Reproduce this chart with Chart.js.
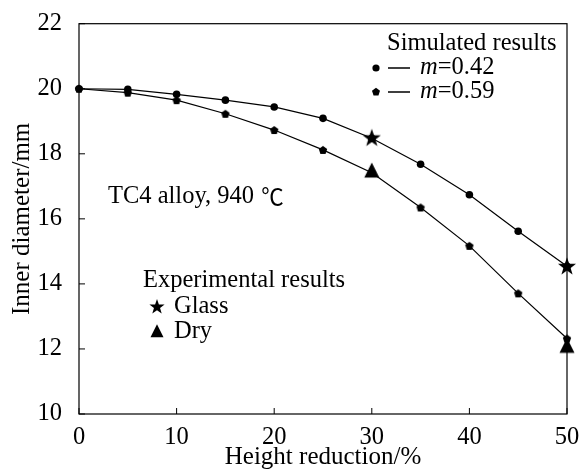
<!DOCTYPE html>
<html><head><meta charset="utf-8">
<script src="https://cdn.jsdelivr.net/npm/chart.js@4/dist/chart.umd.min.js"></script>
<style>html,body{margin:0;padding:0;background:#fff}canvas{display:block}</style>
</head><body>
<canvas id="c" width="581" height="470"></canvas>
<script>
const reduction = [0, 5, 10, 15, 20, 25, 30, 35, 40, 45, 50];
const simM042 = [20.0, 19.98, 19.83, 19.65, 19.44, 19.09, 18.48, 17.68, 16.74, 15.62, 14.54];
const simM059 = [20.0, 19.88, 19.65, 19.23, 18.73, 18.12, 17.42, 16.35, 15.17, 13.71, 12.32];
const glassX = [30, 50];
const glassY = [18.5, 14.55];
const dryX = [30, 50];
const dryY = [17.47, 12.08];
const xTicks = [0, 10, 20, 30, 40, 50];
const yTicks = [10, 12, 14, 16, 18, 20, 22];

const FONT = '"Liberation Serif", "Times New Roman", "Noto Sans CJK SC", serif';
const FS = 24.5;
const TS = 25;

function makeCanvas(size, draw) {
  const c = document.createElement('canvas');
  c.width = size; c.height = size;
  const g = c.getContext('2d');
  g.fillStyle = '#000';
  draw(g, size / 2);
  return c;
}
function pentPath(g, cx, cy, r) {
  g.beginPath();
  for (let i = 0; i < 5; i++) {
    const a = -Math.PI / 2 + i * 2 * Math.PI / 5;
    const px = cx + r * Math.cos(a), py = cy + r * Math.sin(a);
    i ? g.lineTo(px, py) : g.moveTo(px, py);
  }
  g.closePath(); g.fill();
}
function starPath(g, cx, cy, R, r) {
  g.beginPath();
  for (let i = 0; i < 10; i++) {
    const a = -Math.PI / 2 + i * Math.PI / 5;
    const rr = i % 2 ? r : R;
    const px = cx + rr * Math.cos(a), py = cy + rr * Math.sin(a);
    i ? g.lineTo(px, py) : g.moveTo(px, py);
  }
  g.closePath(); g.fill();
}
function triPath(g, cx, cy, s) {
  g.beginPath();
  g.moveTo(cx, cy - s * 0.6);
  g.lineTo(cx + s / 2, cy + s * 0.4);
  g.lineTo(cx - s / 2, cy + s * 0.4);
  g.closePath(); g.fill();
}
const pentImg = makeCanvas(10, (g, h) => pentPath(g, h, h + 0.4, 4.4));
const starImg = makeCanvas(20, (g, h) => starPath(g, h, h + 0.8, 9.5, 3.8));
const triImg = makeCanvas(18, (g, h) => triPath(g, h, h + 0.5, 15));

const toXY = (xs, ys) => xs.map((x, i) => ({ x: x, y: ys[i] }));

const framePlugin = {
  id: 'frame',
  afterDraw(chart) {
    const { ctx, chartArea: a, scales } = chart;
    ctx.save();
    ctx.strokeStyle = '#000';
    ctx.lineWidth = 1.2;
    ctx.strokeRect(a.left, a.top, a.right - a.left, a.bottom - a.top);
    ctx.lineWidth = 1;
    ctx.beginPath();
    xTicks.forEach(v => {
      const px = scales.x.getPixelForValue(v);
      ctx.moveTo(px, a.bottom); ctx.lineTo(px, a.bottom - 6);
    });
    yTicks.forEach(v => {
      const py = scales.y.getPixelForValue(v);
      ctx.moveTo(a.left, py); ctx.lineTo(a.left + 6, py);
    });
    ctx.stroke();

    ctx.fillStyle = '#000';
    ctx.textBaseline = 'middle';
    ctx.textAlign = 'left';
    ctx.font = FS + 'px ' + FONT;
    ctx.fillText('Simulated results', 387, 44);
    ctx.beginPath(); ctx.arc(376, 68, 3.6, 0, Math.PI * 2); ctx.fill();
    pentPath(ctx, 376, 92, 4.2);
    ctx.lineWidth = 1.3;
    ctx.beginPath();
    ctx.moveTo(388, 68); ctx.lineTo(410, 68);
    ctx.moveTo(388, 92); ctx.lineTo(410, 92);
    ctx.stroke();
    [['0.42', 68], ['0.59', 92]].forEach(([t, y]) => {
      ctx.font = 'italic ' + FS + 'px ' + FONT;
      ctx.fillText('m', 420, y);
      const w = ctx.measureText('m').width;
      ctx.font = FS + 'px ' + FONT;
      ctx.fillText('=' + t, 420 + w, y);
    });
    ctx.fillText('TC4 alloy, 940 ', 108, 197);
    const w2 = ctx.measureText('TC4 alloy, 940 ').width;
    ctx.font = (FS - 2) + 'px "Noto Sans CJK SC", ' + FONT;
    ctx.fillText('\u2103', 108 + w2 + 1, 196);
    ctx.font = FS + 'px ' + FONT;
    ctx.fillText('Experimental results', 143, 281);
    starPath(ctx, 157, 307, 8, 3.2);
    ctx.fillText('Glass', 174, 307);
    triPath(ctx, 157, 332, 13);
    ctx.fillText('Dry', 174, 332);
    ctx.restore();
  }
};

new Chart(document.getElementById('c'), {
  type: 'line',
  data: {
    datasets: [
      { label: 'm=0.42', data: toXY(reduction, simM042), borderColor: '#000', borderWidth: 1.2,
        pointStyle: 'circle', pointRadius: 3.8, pointBackgroundColor: '#000', pointBorderWidth: 0, clip: false, tension: 0 },
      { label: 'm=0.59', data: toXY(reduction, simM059), borderColor: '#000', borderWidth: 1.2,
        pointStyle: pentImg, pointRadius: 4, pointBackgroundColor: '#000', clip: false, tension: 0 },
      { label: 'Glass', data: toXY(glassX, glassY), showLine: false, pointStyle: starImg, pointRadius: 9, clip: false },
      { label: 'Dry', data: toXY(dryX, dryY), showLine: false, pointStyle: triImg, pointRadius: 8, clip: false }
    ]
  },
  options: {
    responsive: false,
    animation: false,
    layout: { padding: { top: 22, right: 14, left: 0, bottom: 0 } },
    plugins: { legend: { display: false }, tooltip: { enabled: false } },
    scales: {
      x: {
        type: 'linear', min: 0, max: 50,
        afterBuildTicks: s => { s.ticks = xTicks.map(v => ({ value: v })); },
        afterFit: s => { s.height = 56; },
        grid: { display: false },
        border: { display: false },
        ticks: { color: '#000', font: { family: FONT, size: FS }, padding: 1, maxRotation: 0 },
        title: { display: true, text: 'Height reduction/%', color: '#000', font: { family: FONT, size: TS, lineHeight: 1.0 }, padding: { top: 0, bottom: 0 } }
      },
      y: {
        type: 'linear', min: 10, max: 22,
        afterBuildTicks: s => { s.ticks = yTicks.map(v => ({ value: v })); },
        afterFit: s => { s.width = 79; },
        grid: { display: false },
        border: { display: false },
        ticks: { color: '#000', font: { family: FONT, size: FS }, padding: 9 },
        title: { display: true, text: 'Inner diameter/mm', color: '#000', font: { family: FONT, size: TS }, padding: { top: 7, bottom: 0 } }
      }
    }
  },
  plugins: [framePlugin]
});
</script>
</body></html>
